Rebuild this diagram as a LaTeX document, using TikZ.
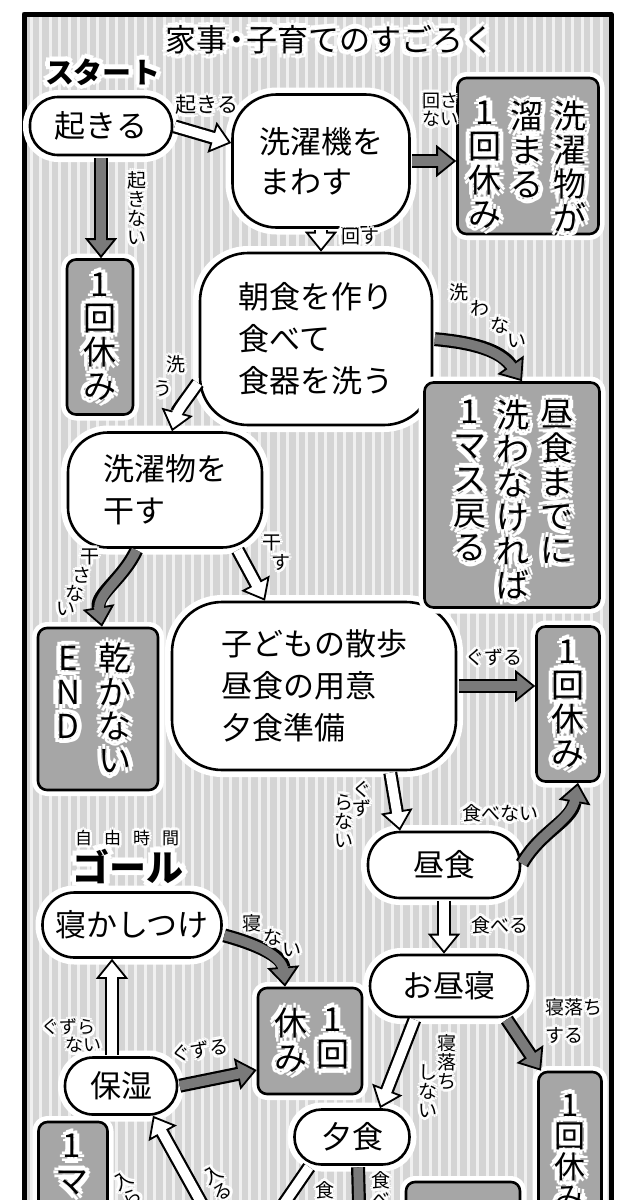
\documentclass[tikz,border=0pt]{standalone}
\usepackage{fontspec}
\usepackage{tikz}
\usetikzlibrary{arrows.meta, positioning}
\newfontfamily\jp{Noto Sans CJK JP}
\definecolor{panelgray}{RGB}{212,212,212}
\definecolor{stripegray}{RGB}{240,240,240}
\definecolor{boxgray}{RGB}{166,166,166}
\definecolor{arrowgray}{RGB}{122,122,122}

% white glow behind text
\newcommand\hlat[2]{\rlap{\kern#1\raisebox{#2}[0pt][0pt]{\color{white}\hltext}}}
\newcommand\hl[1]{\leavevmode\def\hltext{#1}%
  \hlat{.16em}{0pt}\hlat{-.16em}{0pt}\hlat{0pt}{.16em}\hlat{0pt}{-.16em}%
  \hlat{.113em}{.113em}\hlat{-.113em}{.113em}%
  \hlat{.113em}{-.113em}\hlat{-.113em}{-.113em}#1}
% one character per line
\def\vt#1{\vtfirst#1\relax}
\def\vtfirst#1{\hl{#1}\vtnext}
\def\vtnext#1{\ifx\relax#1\else\\\hl{#1}\expandafter\vtnext\fi}

\begin{document}
\begin{tikzpicture}[x=1pt, y=1pt, line join=round, font=\jp,
    blob/.style={draw, line width=2.6pt, fill=white, rounded corners=#1,
                 preaction={draw=white, line width=14pt}, inner sep=0pt,
                 align=left, font=\jp\fontsize{31}{42}\selectfont},
    restbox/.style={draw, line width=2.6pt, fill=boxgray, rounded corners=9pt,
                    preaction={draw=white, line width=12pt}, inner sep=0pt,
                    align=center, font=\jp\fontsize{33}{34}\selectfont},
    col/.style={inner sep=0pt, anchor=north, align=center,
                font=\jp\fontsize{33}{34}\selectfont},
    lbl/.style={inner sep=0pt, align=center,
                font=\jp\fontsize{#1}{#1}\selectfont},
    lbl/.default=19,
    fatarrow/.style={draw=black, line width=1.8pt, shorten <=1.5pt,
                     -{Triangle[length=20pt, width=32pt, fill=#1]},
                     postaction={draw=black, line width=14pt, arrows=-, shorten >=19.5pt},
                     postaction={draw=#1, line width=9.6pt, arrows=-, shorten >=16pt}},
    warrow/.style={fatarrow=white},
    darrow/.style={fatarrow=arrowgray}
]
    \useasboundingbox (0,0) rectangle (634,-1200);
    \clip (0,0) rectangle (634,-1200);

    % panel
    \fill[panelgray] (24,-14) rectangle (611,-1300);
    \foreach \x in {31,40.5,...,606}
        \draw[stripegray, line width=3pt] (\x,-14) -- (\x,-1300);
    \draw[line width=5pt] (24,-14) rectangle (611,-1300);

    % headings
    \node[inner sep=0pt, font=\jp\fontsize{31}{31}\selectfont] (title) at (330,-40) {\hl{家事}\hspace{-6pt}\hl{・}\hspace{-6pt}\hl{子育てのすごろく}};
    \node[inner sep=0pt, font=\jp\bfseries\fontsize{29}{29}\selectfont] (start) at (103,-72) {\hl{スタート}};
    \node[lbl=17] (freetime) at (127,-838) {\hl{自}\hspace{12pt}\hl{由}\hspace{12pt}\hl{時}\hspace{12pt}\hl{間}};
    \node[inner sep=0pt, font=\jp\bfseries\fontsize{37}{37}\selectfont] (goal) at (128,-866) {\hl{ゴール}};

    % squares
    \node[blob=28pt, minimum width=142, minimum height=58, align=center] (wake) at (101,-126) {起きる};
    \node[blob=44pt, minimum width=177, minimum height=133, font=\jp\fontsize{31}{40}\selectfont] (washer) at (321,-161) {洗濯機を\\まわす};
    \node[blob=48pt, minimum width=232, minimum height=172] (breakfast) at (316,-339) {朝食を作り\\食べて\\食器を洗う};
    \node[blob=40pt, minimum width=194, minimum height=115] (dry) at (165,-490) {洗濯物を\\干す};
    \node[blob=50pt, minimum width=284, minimum height=168] (kids) at (314,-686) {子どもの散歩\\昼食の用意\\夕食準備};
    \node[blob=32pt, minimum width=152, minimum height=66, align=center] (lunch) at (444,-865) {昼食};
    \node[blob=32pt, minimum width=179, minimum height=65, align=center] (gosleep) at (132,-925) {寝かしつけ};
    \node[blob=31pt, minimum width=158, minimum height=62, align=center] (nap) at (449,-986) {お昼寝};
    \node[blob=28pt, minimum width=112, minimum height=57, align=center] (moist) at (121,-1086) {保湿};
    \node[blob=27pt, minimum width=115, minimum height=55, align=center] (dinner) at (352,-1137) {夕食};

    % rest boxes
    \node[restbox, minimum width=141, minimum height=156] (soakbox) at (528,-156) {};
    \node[col] (soak1) at (570,-101) {\vt{洗濯物が}};
    \node[col] (soak2) at (527,-101) {\vt{溜まる}};
    \node[col] (soak3) at (485,-101) {\vt{1回休み}};

    \node[restbox, minimum width=66, minimum height=155] (restA) at (100,-337) {\vt{1回休み}};

    \node[restbox, minimum width=175, minimum height=225] (lunchbox) at (512,-495) {};
    \node[col] (lunchbox1) at (557,-400) {\vt{昼食までに}};
    \node[col] (lunchbox2) at (513,-400) {\vt{洗わなければ}};
    \node[col] (lunchbox3) at (470,-400) {\vt{1マス戻る}};

    \node[restbox, minimum width=120, minimum height=162] (dryfail) at (98,-709) {};
    \node[col] (dryfail1) at (115,-643) {\vt{乾かない}};
    \node[col] (dryfail2) at (68,-646) {\vt{END}};

    \node[restbox, minimum width=63, minimum height=155] (rest3) at (568,-704) {\vt{1回休み}};

    \node[restbox, minimum width=104, minimum height=106] (restB) at (310,-1041) {};
    \node[col, font=\jp\fontsize{33}{35}\selectfont] (restB1) at (333,-1008) {\vt{1回}};
    \node[col, font=\jp\fontsize{33}{35}\selectfont] (restB2) at (291,-1008) {\vt{休み}};

    \node[restbox, minimum width=63, minimum height=158] (rest6) at (570,-1151) {};
    \node[col, font=\jp\fontsize{31}{31}\selectfont] (rest6txt) at (570,-1094) {\vt{1回休み}};

    \node[restbox, minimum width=69, minimum height=158] (backbox) at (73,-1201) {};
    \node[col, font=\jp\fontsize{33}{36}\selectfont] (backboxtxt) at (72,-1134) {\vt{1マ}};

    \node[restbox, minimum width=114, minimum height=98] (dinnerbox) at (463,-1231) {};

    % connectors
    \coordinate (offA) at (208,-1215);
    \coordinate (offB) at (259,-1240);
    \coordinate (offC) at (360,-1240);
    \draw[warrow] (wake.east) -- ([yshift=18pt]washer.west);
    \draw[darrow] (washer.east) -- (washer.east -| soakbox.west);
    \draw[darrow] (wake.south) -- (wake.south |- restA.north);
    \draw[warrow] (washer.south) -- (washer.south |- breakfast.north);
    \draw[darrow] (breakfast.east) to[out=-5,in=125] ([xshift=10pt]lunchbox.north);
    \draw[warrow] (breakfast.200) to[out=235,in=75] ([xshift=7pt]dry.north);
    \draw[darrow] ([xshift=-28pt]dry.south) to[out=245,in=100] ([xshift=4pt]dryfail.north);
    \draw[warrow] ([xshift=72pt]dry.south) -- ([xshift=-49pt]kids.north);
    \draw[darrow] (kids.east) -- (kids.east -| rest3.west);
    \draw[warrow] ([xshift=76pt]kids.south) -- ([xshift=-44pt]lunch.north);
    \draw[darrow] (lunch.east) to[out=60,in=260] ([xshift=10pt]rest3.south);
    \draw[warrow] (lunch.south) -- (lunch.south |- nap.north);
    \draw[darrow] ([yshift=-10pt]gosleep.east) to[out=-15,in=95] ([xshift=-25pt]restB.north);
    \draw[darrow] (moist.east) -- ([yshift=-29pt]restB.west);
    \draw[warrow] ([xshift=-9pt]moist.north) -- ([xshift=-9pt]moist.north |- gosleep.south);
    \draw[warrow] (offA) -- ([xshift=32pt]moist.south);
    \draw[darrow] ([xshift=57pt]nap.south) -- ([xshift=-29pt]rest6.north);
    \draw[warrow] ([xshift=-34pt]nap.south) -- ([xshift=28pt]dinner.north);
    \draw[warrow] ([xshift=-42pt]dinner.south) -- (offB);
    \draw[darrow] ([xshift=6pt]dinner.south) -- (offC);

    % labels
    \node[lbl=21] (lwake) at (207,-105) {\hl{起きる}};
    \node[lbl=18] (lnoturn) at (440,-110) {\hl{回さ}\\\hl{ない}};
    \node[lbl, anchor=north] (lnowake) at (137,-171) {\vt{起きない}};
    \node[lbl] (lturn) at (360,-237) {\hl{回す}};
    \foreach \cx/\cy/\ch [count=\i] in {459/292/洗, 480/308/わ, 500/325/な, 517/341/い}
        \node[lbl] (lnowash\i) at (\cx,-\cy) {\hl{\ch}};
    \foreach \cx/\cy/\ch [count=\i] in {176/364/洗, 163/389/う}
        \node[lbl] (lwash\i) at (\cx,-\cy) {\hl{\ch}};
    \foreach \cx/\cy/\ch [count=\i] in {272/543/干, 281/562/す}
        \node[lbl] (lhang\i) at (\cx,-\cy) {\hl{\ch}};
    \foreach \cx/\cy/\ch [count=\i] in {90/557/干, 82/575/さ, 75/593/な, 66/609/い}
        \node[lbl] (lnohang\i) at (\cx,-\cy) {\hl{\ch}};
    \node[lbl] (lfuss) at (494,-657) {\hl{ぐずる}};
    \node[lbl, anchor=north] (lcalm1) at (362,-781) {\vt{ぐず}};
    \node[lbl, anchor=north] (lcalm2) at (344,-794) {\vt{らない}};
    \node[lbl] (lnoeat) at (500,-813) {\hl{食べない}};
    \foreach \cx/\cy/\ch [count=\i] in {252/923/寝, 273/937/な, 292/950/い}
        \node[lbl] (lnosleep\i) at (\cx,-\cy) {\hl{\ch}};
    \node[lbl] (leat) at (500,-925) {\hl{食べる}};
    \node[lbl=18, anchor=west, align=left] (lcalm3) at (41,-1036) {\hl{ぐずら}\\\hspace*{24pt}\hl{ない}};
    \node[lbl, rotate=8] (lfuss2) at (200,-1050) {\hl{ぐずる}};
    \node[lbl, anchor=west, align=left] (ldoze) at (545,-1021) {\hl{寝落ち}\\[9pt]\hl{する}};
    \node[lbl, anchor=north] (lnodoze1) at (447,-1034) {\vt{寝落ち}};
    \node[lbl, anchor=north] (lnodoze2) at (428,-1064) {\vt{しない}};
    \node[lbl, anchor=north, rotate=30] (lenter) at (209,-1168) {\vt{入る}};
    \node[lbl, anchor=north, rotate=30] (lenter2) at (119,-1174) {\vt{入ら}};
    \node[lbl, anchor=north] (leat2) at (325,-1181) {\vt{食べる}};
    \node[lbl, anchor=north] (lnoeat2) at (381,-1171) {\vt{食べない}};
\end{tikzpicture}
\end{document}
